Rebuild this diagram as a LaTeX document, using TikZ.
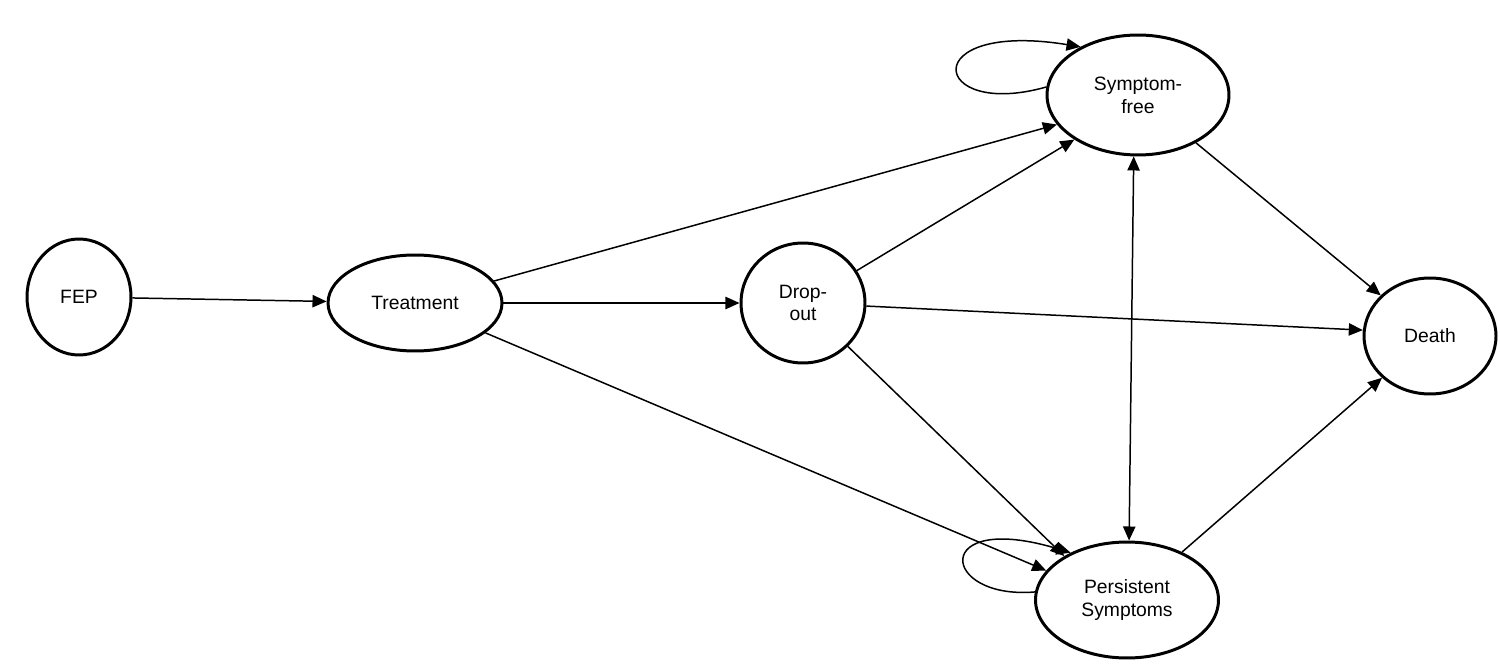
\documentclass[tikz,border=0pt]{standalone}
\usepackage{fontspec}
\setmainfont{Liberation Sans}
\usetikzlibrary{shapes.geometric,arrows.meta}
\begin{document}
\begin{tikzpicture}[x=0.02cm,y=-0.02cm,
  st/.style={ellipse,draw,line width=1.7pt,inner sep=0pt,align=center,font=\fontsize{11}{13}\selectfont},
  ar/.style={-{Triangle[length=8pt,width=7pt]},line width=0.85pt}]
\useasboundingbox (0,0) rectangle (1500,672);
\node[st,minimum width=104\pgflinewidth/1.7*0.02cm*50,minimum width=2.08cm,minimum height=2.32cm] (fep) at (79,297) {FEP};
\node[st,minimum width=3.48cm,minimum height=1.92cm] (tr) at (415,303) {Treatment};
\node[st,minimum width=2.48cm,minimum height=2.4cm] (do) at (803,303) {Drop-\\out};
\node[st,minimum width=3.64cm,minimum height=2.4cm] (sf) at (1138,95) {Symptom-\\free};
\node[st,minimum width=2.64cm,minimum height=2.32cm] (de) at (1430,336) {Death};
\node[st,minimum width=3.66cm,minimum height=2.32cm] (ps) at (1127,600) {Persistent\\Symptoms};
\draw[ar] (fep) -- (tr);
\draw[ar] (tr) -- (do);
\draw[ar] (tr) -- (sf.200);
\draw[ar] (tr) -- (ps.160);
\draw[ar] (do) -- (sf.215);
\draw[ar] (do) -- (de.175);
\draw[ar] (do) -- (ps.145);
\draw[{Triangle[length=8pt,width=7pt]}-{Triangle[length=8pt,width=7pt]},line width=0.85pt] (sf.266) -- (ps.88);
\draw[ar] (sf) -- (de);
\draw[ar] (ps) -- (de);
\draw[ar] (sf.175) .. controls (930,120) and (915,20) .. (sf.140);
\draw[ar] (ps.175) .. controls (940,600) and (930,510) .. (ps.140);
\end{tikzpicture}
\end{document}
